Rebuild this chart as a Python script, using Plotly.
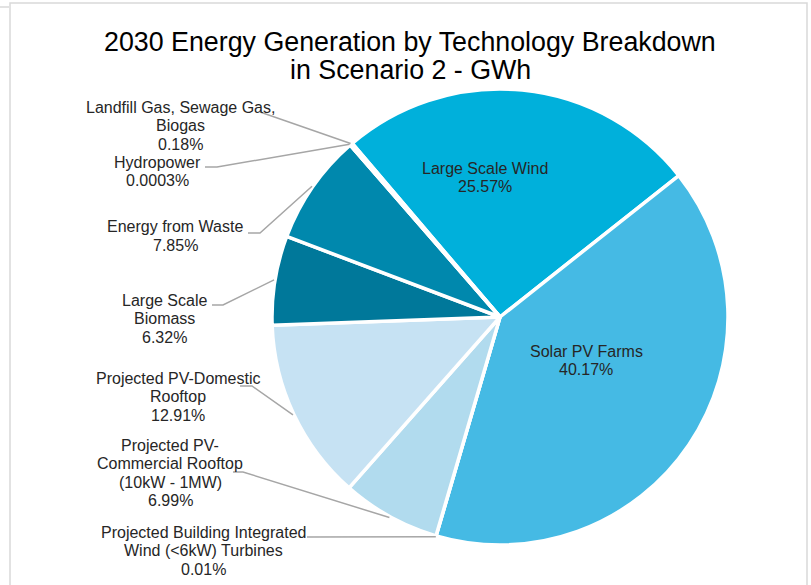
import math
import plotly.graph_objects as go

# Technologies, in drawing order (clockwise from the top-left)
technologies = [
    "Large Scale Wind",
    "Solar PV Farms",
    "Projected Building Integrated Wind (<6kW) Turbines",
    "Projected PV-Commercial Rooftop (10kW - 1MW)",
    "Projected PV-Domestic Rooftop",
    "Large Scale Biomass",
    "Energy from Waste",
    "Hydropower",
    "Landfill Gas, Sewage Gas, Biogas",
]
# Share of 2030 generation, percent
shares = [25.57, 40.17, 0.01, 6.99, 12.91, 6.32, 7.85, 0.0003, 0.18]

# How each name is wrapped in its data label
label_lines = [
    ["Large Scale Wind"],
    ["Solar PV Farms"],
    ["Projected Building Integrated", "Wind (<6kW) Turbines"],
    ["Projected PV-", "Commercial Rooftop", "(10kW - 1MW)"],
    ["Projected PV-Domestic", "Rooftop"],
    ["Large Scale", "Biomass"],
    ["Energy from Waste"],
    ["Hydropower"],
    ["Landfill Gas, Sewage Gas,", "Biogas"],
]

colors = ["#00B0DB", "#45BAE4", "#9ED3EA", "#B1DBEE", "#C6E2F3",
          "#00789A", "#0088AD", "#006E8C", "#00A3CC"]

W, H = 811, 585
CX, CY, R = 500, 317, 228
START = -40.4  # angle of the first slice edge, degrees clockwise from 12 o'clock

def px(x):
    return x / W

def py(y):
    return 1 - y / H

fig = go.Figure(go.Pie(
    labels=technologies,
    values=shares,
    sort=False,
    direction="clockwise",
    rotation=START,
    marker=dict(colors=colors, line=dict(color="white", width=3.5)),
    textinfo="none",
    hoverinfo="label+percent",
    showlegend=False,
    domain=dict(x=[px(CX - R), px(CX + R)], y=[py(CY + R), py(CY - R)]),
))

# mid-angle of each slice, from the data
total = sum(shares)
mid_angles = []
acc = START
for v in shares:
    span = v / total * 360
    mid_angles.append(acc + span / 2)
    acc += span

def edge_point(i, r=229):
    a = math.radians(mid_angles[i])
    return CX + r * math.sin(a), CY - r * math.cos(a)

annotations = []
shapes = []

def add_text(lines, cx, y0, pitch, size, color):
    for k, t in enumerate(lines):
        annotations.append(dict(
            text=t, x=px(cx), y=py(y0 + k * pitch), xref="paper", yref="paper",
            xanchor="center", yanchor="middle", showarrow=False,
            font=dict(family="Arial, Liberation Sans", size=size, color=color),
        ))

# Title
add_text(["2030 Energy Generation by Technology Breakdown", "in Scenario 2 - GWh"],
         410, 42, 28, 26.8, "#000000")

# Label placement: (centre x, first line y)
label_pos = {
    0: (485, 168),
    1: (586, 351),
    2: (203, 532),
    3: (170, 445),
    4: (178, 378),
    5: (164, 300),
    6: (175, 227),
    7: (157, 162),
    8: (180, 107),
}
PITCH = 18.5
for i, (cx, y0) in label_pos.items():
    pct = f"{shares[i]:g}%"
    add_text(label_lines[i] + [pct], cx, y0, PITCH, 16, "#262626")

# Leader lines: text-side bend points, ending on the slice edge
leader_start = {
    8: [(260, 112)],
    7: [(205, 167), (217, 167)],
    6: [(248, 233), (260, 233)],
    5: [(212, 305), (223, 305)],
    4: [(240, 386), (252, 386)],
    3: [(233, 472), (243, 472)],
    2: [(307, 537)],
}
for i, pts in leader_start.items():
    path_pts = pts + [edge_point(i)]
    d = "M " + " L ".join(f"{px(x):.5f},{py(y):.5f}" for x, y in path_pts)
    shapes.append(dict(type="path", path=d, xref="paper", yref="paper",
                       line=dict(color="#A6A6A6", width=1.5)))

# Chart frame
shapes.append(dict(type="rect", xref="paper", yref="paper",
                   x0=px(10), x1=px(807), y0=py(600), y1=py(3),
                   line=dict(color="#D9D9D9", width=1.5)))
shapes.append(dict(type="line", xref="paper", yref="paper",
                   x0=px(0), x1=px(9), y0=py(7), y1=py(7),
                   line=dict(color="#D9D9D9", width=1.5)))

fig.update_layout(
    width=W, height=H,
    margin=dict(l=0, r=0, t=0, b=0),
    paper_bgcolor="white", plot_bgcolor="white",
    annotations=annotations, shapes=shapes,
)

fig.write_html("out.html")
